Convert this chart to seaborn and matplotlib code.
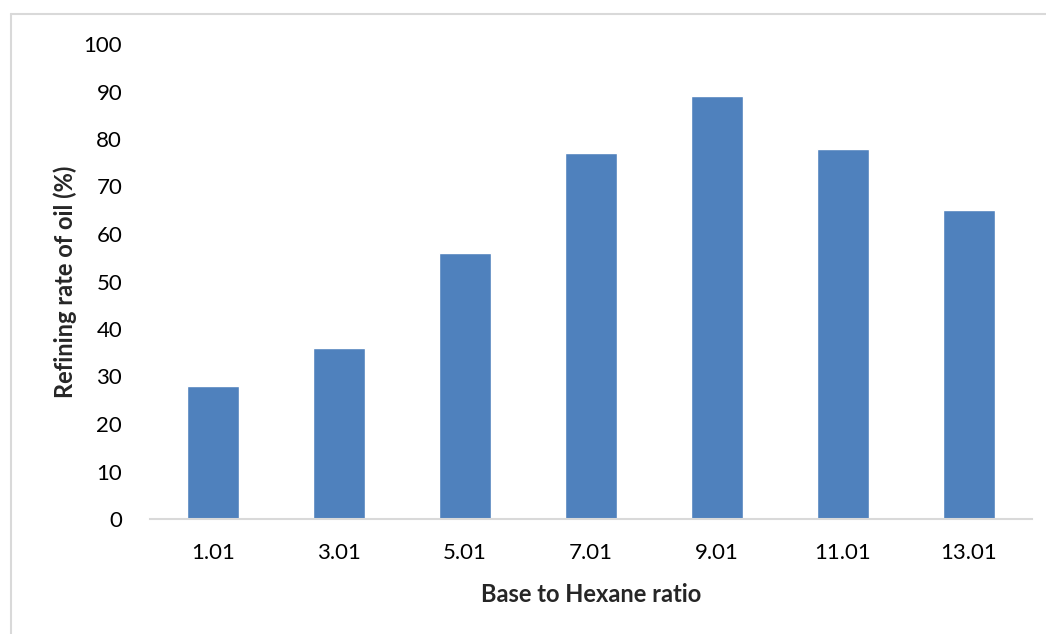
import pandas as pd
import matplotlib.pyplot as plt
import seaborn as sns
from matplotlib.lines import Line2D

# data
ratios = ['1.01', '3.01', '5.01', '7.01', '9.01', '11.01', '13.01']
refining_rate = [28, 36, 56, 77, 89, 78, 65]

df = pd.DataFrame({'ratio': ratios, 'rate': refining_rate})

sns.set_style('white')
plt.rcParams['font.family'] = ['Lato', 'DejaVu Sans']

fig = plt.figure(figsize=(10.46, 6.34), dpi=100)
ax = fig.add_axes([150 / 1046, 1 - 519 / 634, 882 / 1046, 475 / 634])

sns.barplot(x='ratio', y='rate', data=df, color='#4F81BD', saturation=1,
            width=0.41, ax=ax)

ax.set_ylim(0, 100)
ax.set_yticks(range(0, 101, 10))
ax.set_xlim(-0.5, len(ratios) - 0.5)
ax.tick_params(axis='both', labelsize=16, length=0, colors='#000000')
ax.tick_params(axis='x', pad=17)
ax.tick_params(axis='y', pad=20)

for side in ['top', 'right', 'left']:
    ax.spines[side].set_visible(False)
ax.spines['bottom'].set_color('#D9D9D9')
ax.spines['bottom'].set_linewidth(1.5)

ax.set_xlabel('Base to Hexane ratio', fontsize=17, fontweight='bold', labelpad=15)
ax.set_ylabel('Refining rate of oil (%)', fontsize=17, fontweight='bold', labelpad=5)

# outer chart border (left and top visible in the reference)
fig.add_artist(Line2D([10.5 / 1046, 10.5 / 1046], [0, 1 - 13.5 / 634],
                      transform=fig.transFigure, color='#D9D9D9', lw=1.5))
fig.add_artist(Line2D([10.5 / 1046, 1], [1 - 13.5 / 634, 1 - 13.5 / 634],
                      transform=fig.transFigure, color='#D9D9D9', lw=1.5))

plt.savefig('out.png', dpi=100)
